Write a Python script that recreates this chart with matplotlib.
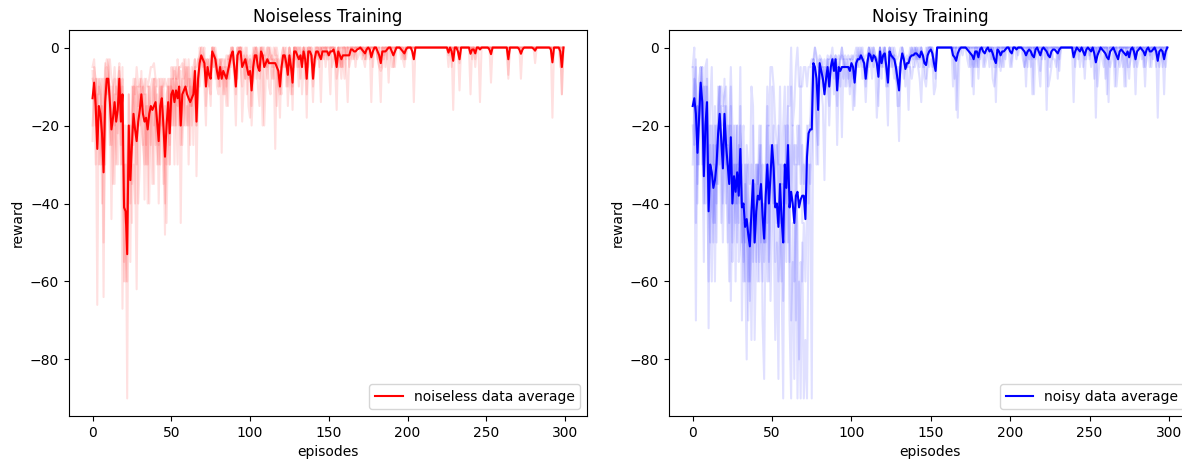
import numpy as np
import matplotlib
matplotlib.use('Agg')
import matplotlib.pyplot as plt

# promedio de las corridas sin ruido
noiseless_mean = [
    -13, -9, -15, -26, -15, -17, -22, -32, -14, -8, -8, -14, -21, -18, -14, -19, -16, -8, -19, -12,
    -41, -42, -53, -20, -34, -25, -17, -21, -24, -19, -16, -12, -17, -19, -18, -21, -17, -15, -16, -15,
    -14, -19, -24, -15, -13, -20, -28, -20, -14, -22, -12, -11, -14, -11, -13, -10, -20, -12, -11, -10,
    -12, -13, -14, -13, -12, -6, -19, -8, -4, -2, -3, -4, -10, -5, -7, -8, -1, -2, -3, -6,
    -8, -5, -8, -6, -7, -8, -6, -4, -2, -1, -5, -10, -2, -1, -1, -5, -4, -3, -5, -7,
    -6, -11, -5, -2, -2, -5, -6, -1, -2, -5, -4, -3, -4, -4, -4, -4, -4, -5, -6, -10,
    -5, -2, -2, -4, -7, -2, -5, -9, -1, -1, -2, -3, -2, -5, -1, -3, -8, -1, -1, -2,
    -8, -3, -1, -1, -2, -3, -1, -1, -1, -1, -2, -1, -1, -0.5, -2, -5, -1, -2, -3, -2,
    -2, -2, -2, -2, -0.5, -0.5, -1, -1, -0.5, -0.3, 0, -0.5, -1, -1.5, -0.5, 0, -0.5, -2.5, -1, 0,
    0, -1, -2, -4, -1, -1, -1, -0.5, 0, 0, -1, -2, -1, 0, 0, 0, -0.5, -1, -1.5, -0.5,
    0, 0, 0, -1, -3, 0, 0, 0, 0, 0, 0, 0, 0, 0, 0, 0, 0, 0, 0, 0,
    0, 0, 0, 0, 0, 0, -1.3, 0, -1, -3.4, 0, 0, -1, -3, 0, 0, 0, 0, 0, 0,
    -1.6, -0.5, -0.5, -1.5, 0, 0, -0.5, 0, 0, 0, 0, 0, -0.5, -1.7, 0, 0, 0, 0, 0, 0,
    0, 0, 0, 0, -3, 0, 0, 0, 0, 0, 0, -0.5, -1.6, -0.5, 0, 0, 0, 0, 0, 0,
    -0.3, -0.8, 0, 0, 0, 0, 0, 0, 0, 0, 0, -0.5, -3.8, 0, 0, 0, 0, -1, -5, 0,
]

noiseless_run1 = [
    -24, -5, -8, -66, -10, -12, -30, -20, -6, -3, -5, -12, -44, -15, -8, -30, -10, -4, -25, -10,
    -55, -30, -90, -12, -40, -20, -8, -15, -30, -10, -20, -6, -25, -12, -30, -15, -40, -10, -8, -20,
    -10, -30, -18, -8, -15, -25, -48, -12, -10, -30, -8, -20, -6, -15, -30, -5, -45, -10, -3, -15,
    -20, -8, -25, -10, -5, -3, -33, -12, 0, -2, -5, -10, -20, -3, -8, -15, 0, -5, -2, -10,
    -12, -3, -27, -5, -10, -15, -2, -8, 0, -3, -8, -20, -2, 0, -5, -10, -3, -8, -2, -15,
    -18, -5, 0, -2, -8, -3, 0, -2, -20, -5, -3, -8, -2, 0, -5, -3, -26, -2, -8, -18,
    -3, 0, -5, -2, -10, 0, -3, -16, 0, -2, -5, -2, -8, -3, 0, -2, -18, 0, 0, -5,
    -14, -2, 0, 0, -3, -14, 0, -2, 0, 0, -3, -12, 0, 0, -5, -16, 0, -3, -8, 0,
    0, -5, -14, -2, 0, 0, -3, 0, 0, 0, 0, 0, -3, -5, 0, 0, 0, -14, 0, 0,
    0, -2, -5, -14, 0, -3, 0, 0, -9, 0, 0, -5, 0, 0, 0, 0, 0, -3, -5, 0,
    0, 0, 0, 0, -14, 0, 0, 0, 0, 0, 0, 0, 0, 0, 0, 0, 0, 0, 0, 0,
    0, 0, 0, 0, 0, 0, -5, 0, 0, -16, 0, 0, 0, -11, 0, 0, 0, 0, 0, 0,
    -12, 0, 0, -5, 0, 0, -14, 0, 0, 0, 0, 0, 0, -9, 0, 0, 0, 0, 0, 0,
    0, 0, 0, 0, -8, 0, 0, 0, 0, 0, 0, 0, -8, 0, 0, 0, 0, 0, 0, 0,
    0, -4, 0, 0, 0, 0, 0, 0, 0, 0, 0, 0, -18, 0, 0, 0, 0, 0, -12, 0,
]

noiseless_run2 = [
    -8, -10, -20, -12, -30, -25, -15, -64, -10, -8, -12, -25, -10, -20, -35, -10, -22, -6, -12, -67,
    -30, -60, -40, -25, -20, -45, -10, -30, -62, -20, -8, -15, -10, -39, -12, -30, -10, -20, -35, -8,
    -25, -12, -40, -20, -10, -35, -15, -30, -20, -8, -20, -5, -30, -8, -10, -20, -6, -25, -15, -8,
    -5, -30, -10, -20, -15, -8, -20, -3, -10, -5, -3, 0, -15, -8, -3, -5, -2, 0, -8, -5,
    -3, -10, -5, -12, -3, -8, -15, -2, -5, 0, -3, -5, -8, -2, 0, -19, -10, 0, -12, -5,
    -5, -20, -10, -3, 0, -10, -15, 0, -3, -20, -8, 0, -10, -12, -3, -8, -5, -15, -3, -10,
    -12, -3, 0, -10, -5, -8, -12, -3, -5, 0, -3, -10, 0, -12, -5, -8, 0, -5, -3, 0,
    -10, -5, -3, 0, -5, 0, -3, 0, -5, 0, 0, 0, -5, -3, 0, -8, -5, 0, -5, -3,
    -8, 0, 0, -5, -3, 0, 0, -5, 0, 0, 0, -3, 0, -3, 0, 0, -3, 0, -5, 0,
    0, -3, -5, -6, -5, 0, -5, 0, 0, 0, -5, -5, 0, 0, 0, 0, 0, 0, -3, 0,
    0, 0, 0, 0, 0, 0, 0, 0, 0, 0, 0, 0, 0, 0, 0, 0, 0, 0, 0, 0,
    0, 0, 0, 0, 0, 0, 0, 0, -5, 0, 0, 0, 0, -4, 0, 0, 0, 0, 0, 0,
    0, 0, 0, -3, 0, 0, 0, 0, 0, 0, 0, 0, 0, 0, 0, 0, 0, 0, 0, 0,
    0, 0, 0, 0, -7, 0, 0, 0, 0, 0, 0, 0, 0, 0, 0, 0, 0, 0, 0, 0,
    0, 0, 0, 0, 0, 0, 0, 0, 0, 0, 0, 0, -1, 0, 0, 0, 0, 0, -12, 0,
]

noiseless_run3 = [
    -5, -3, -10, -20, -8, -10, -40, -8, -30, -12, -3, -20, -25, -10, -5, -12, -8, -15, -30, -5,
    -40, -45, -30, -20, -55, -10, -25, -8, -12, -40, -30, -10, -15, -8, -25, -10, -18, -15, -20, -35,
    -8, -20, -25, -10, -20, -8, -40, -15, -8, -25, -15, -8, -10, -20, -3, -8, -20, -8, -20, -5,
    -10, -5, -15, -5, -25, -3, -10, -8, -5, 0, -2, -5, -3, -5, -10, -2, -3, -5, 0, -3,
    -10, -5, -3, -8, -5, -10, -3, -5, -3, -2, -5, -12, 0, -3, 0, -2, -5, -8, 0, -8,
    -3, -15, -3, 0, -2, -5, -8, -2, 0, 0, -5, -3, 0, -5, -8, -5, 0, -5, -8, -8,
    -5, -5, -3, 0, -15, -5, -8, -12, 0, 0, 0, -5, -2, -5, 0, -3, -12, -3, 0, -3,
    -8, -3, -2, -3, 0, 0, -2, -3, 0, -3, -3, 0, 0, 0, -3, -2, 0, -5, 0, -5,
    0, -3, 0, 0, 0, -3, -2, 0, -3, -2, 0, 0, -2, 0, -3, 0, 0, 0, 0, 0,
    0, 0, 0, -5, 0, -2, 0, -3, 0, 0, 0, 0, -5, 0, 0, 0, -3, -2, 0, -3,
    0, 0, 0, 0, 0, 0, 0, 0, 0, 0, 0, 0, 0, 0, 0, 0, 0, 0, 0, 0,
    0, 0, 0, 0, 0, 0, -2, 0, 0, 0, 0, 0, 0, 0, 0, 0, 0, 0, 0, 0,
    0, -3, 0, 0, 0, 0, 0, 0, 0, 0, 0, 0, 0, 0, 0, 0, 0, 0, 0, 0,
    0, 0, 0, 0, 0, 0, 0, 0, 0, 0, 0, 0, 0, 0, 0, 0, 0, 0, 0, 0,
    0, 0, 0, 0, 0, 0, 0, 0, 0, 0, 0, 0, 0, 0, 0, 0, 0, -5, 0, 0,
]

noiseless_run4 = [
    -20, -12, -8, -25, -15, -30, -8, -50, -20, -5, -8, -10, -20, -35, -12, -25, -30, -10, -15, -8,
    -60, -50, -45, -30, -25, -35, -30, -40, -10, -15, -12, -20, -25, -30, -15, -40, -10, -25, -12, -8,
    -20, -25, -30, -15, -8, -20, -30, -45, -20, -10, -10, -15, -20, -5, -15, -12, -25, -15, -10, -20,
    -15, -20, -8, -15, -10, -10, -20, -15, -3, -3, -5, -3, -8, -5, -10, -12, 0, -2, -3, -8,
    -8, -3, -5, -8, -12, -5, -8, -3, 0, 0, -5, -10, -3, 0, 0, -3, -2, -5, -5, -3,
    -2, -10, -8, -5, 0, -3, -5, 0, -3, -2, -3, -5, -3, -3, -2, -5, -3, -3, -10, -12,
    -5, -2, -3, -5, -3, 0, -3, -10, 0, -3, 0, 0, -2, -3, 0, -2, -8, 0, -2, -2,
    -5, -5, 0, -2, -2, 0, 0, 0, 0, -2, -2, 0, 0, 0, -2, -3, 0, -2, -5, 0,
    0, -2, 0, -3, 0, 0, 0, 0, 0, 0, 0, 0, 0, -3, 0, 0, 0, 0, 0, 0,
    0, -3, 0, -3, 0, 0, 0, 0, 0, 0, 0, 0, 0, 0, 0, 0, 0, 0, -3, 0,
    0, 0, 0, 0, 0, 0, 0, 0, 0, 0, 0, 0, 0, 0, 0, 0, 0, 0, 0, 0,
    0, 0, 0, 0, 0, 0, 0, 0, 0, -1, 0, 0, 0, 0, 0, 0, 0, 0, 0, 0,
    0, 0, 0, -1, 0, 0, 0, 0, 0, 0, 0, 0, 0, 0, 0, 0, 0, 0, 0, 0,
    0, 0, 0, 0, 0, 0, 0, 0, 0, 0, 0, 0, 0, 0, 0, 0, 0, 0, 0, 0,
    0, 0, 0, 0, 0, 0, 0, 0, 0, 0, 0, 0, 0, 0, 0, 0, 0, 0, 0, 0,
]

noiseless_run5 = [
    -6, -15, -30, -8, -12, -8, -20, -22, -4, -12, -10, -3, -8, -10, -20, -18, -10, -5, -12, -30,
    -20, -20, -60, -12, -30, -20, -10, -12, -5, -10, -10, -8, -10, -12, -8, -10, -8, -5, -5, -4,
    -8, -10, -8, -30, -10, -10, -8, -10, -10, -30, -5, -8, -5, -8, -8, -5, -5, -4, -8, -3,
    -10, -3, -10, -15, -8, -5, -5, -3, -2, 0, 0, -3, -5, -3, -5, -8, 0, 0, -2, -5,
    -8, -5, -3, -3, -5, -2, -3, -2, -2, 0, -3, -3, 0, 0, 0, 0, -2, -3, -3, -5,
    -3, -5, -2, 0, 0, -2, -3, 0, 0, -2, -2, 0, 0, -2, -3, 0, -2, 0, -3, -5,
    -2, 0, -2, -3, -5, 0, -2, -3, 0, 0, -2, 0, 0, -3, 0, 0, -3, 0, 0, 0,
    -3, 0, 0, 0, 0, -2, 0, 0, 0, 0, 0, 0, 0, 0, 0, -3, 0, 0, 0, 0,
    0, 0, 0, 0, 0, 0, 0, 0, 0, 0, 0, 0, 0, 0, 0, 0, 0, 0, 0, 0,
    0, 0, 0, 0, 0, 0, 0, 0, 0, 0, 0, 0, 0, 0, 0, 0, 0, 0, 0, 0,
    0, 0, 0, 0, 0, 0, 0, 0, 0, 0, 0, 0, 0, 0, 0, 0, 0, 0, 0, 0,
    0, 0, 0, 0, 0, 0, 0, 0, 0, 0, 0, 0, 0, 0, 0, 0, 0, 0, 0, 0,
    0, 0, 0, 0, 0, 0, 0, 0, 0, 0, 0, 0, 0, 0, 0, 0, 0, 0, 0, 0,
    0, 0, 0, 0, 0, 0, 0, 0, 0, 0, 0, 0, 0, 0, 0, 0, 0, 0, 0, 0,
    0, 0, 0, 0, 0, 0, 0, 0, 0, 0, 0, 0, 0, 0, 0, 0, 0, 0, 0, 0,
]

# promedio de las corridas con ruido
noisy_mean = [
    -15, -13, -17, -27, -18, -9, -14, -33, -20, -14, -42, -30, -32, -36, -34, -30, -22, -17, -24, -31,
    -17, -25, -30, -35, -23, -40, -33, -37, -32, -38, -26, -41, -40, -46, -44, -48, -51, -42, -34, -50,
    -42, -38, -39, -35, -43, -49, -38, -30, -40, -33, -25, -31, -41, -40, -46, -35, -44, -50, -30, -36,
    -25, -41, -37, -40, -45, -38, -37, -41, -39, -38, -38, -44, -28, -22, -21, -21, -4, -5, -8, -16,
    -4, -6, -8, -12, -8, -5, -10, -5, -3, -6, -3, -11, -5, -6, -5, -5, -5, -5, -5, -6,
    -4, -5, -9, -4, -3, -3, -2, -3, -4, -8, -4, -1.5, -2, -3.5, -2, -2.5, -4, -7.5, -1, -4,
    -2, -1.5, -5, -9, -1, -2, -2.5, -3, -5, -8, -11, -4, -1.5, -3, -5.5, -4, -4, -2.5, -2, -2,
    -1.5, -1.5, -2, -2.5, -1, -2, -4, -4.5, -2, -1, -0.5, -1.5, -4, -6, 0, 0, 0, 0, 0, 0,
    0, 0, 0, 0, -2, -2.5, -3.4, -1.5, -0.5, 0, 0, 0, 0, -0.5, -1, -1.5, -2, -3, -1, -1,
    -2.5, -0.5, 0, -1, -1.5, -0.5, 0, -1, -0.5, -1.5, -3, -4, -0.5, -1, -2, -1, -1, -0.5, 0, 0,
    -1, -1.5, 0, 0, -0.5, 0, 0, 0, -0.5, -1, -2, -1, -0.5, -1, -2, -2.5, -0.5, 0, -1, -2,
    -0.5, 0, -0.5, -1, -2, -2.5, -1, -0.5, -0.5, -1, -1.5, -0.5, 0, 0, 0, 0, 0, 0, 0, 0,
    -2.5, -1, 0, -0.5, -1, 0, -1, -2, -0.5, 0, -0.5, -1, 0, -1.5, -3.8, -2, -1, 0, -0.5, -1,
    -1.5, -2.5, -3, -1, -0.5, 0, -1, -2, -3, -1, -0.5, -1, -1.5, -2, -1, -2.5, -0.5, 0, -1, -3,
    -1, -0.5, 0, -0.5, -1, -2, -0.5, 0, -1, -1, -0.5, 0, -1, -3.4, -1, -0.5, -1, -3, -1, 0,
]

noisy_run1 = [
    -5, -20, -70, -15, -30, -5, -10, -40, -25, -8, -72, -20, -35, -50, -15, -40, -10, -25, -45, -30,
    -8, -30, -50, -20, -65, -35, -20, -60, -30, -45, -15, -70, -40, -55, -80, -30, -60, -45, -20, -75,
    -50, -30, -55, -20, -70, -85, -40, -15, -60, -30, -10, -45, -75, -50, -85, -30, -60, -90, -20, -55,
    -15, -70, -90, -45, -85, -30, -90, -60, -90, -50, -90, -75, -90, -45, -30, -90, -5, -10, -20, -25,
    -5, -10, -15, -34, -10, -3, -20, -8, -5, -12, -3, -25, -8, -5, -23, -3, -10, -5, -8, -3,
    -5, -16, -10, -2, -5, 0, -3, -8, -5, -14, -5, 0, -3, -8, -2, -5, -18, -10, 0, -5,
    -3, 0, -8, -20, 0, -3, -5, -2, -8, -10, -24, -5, 0, -3, -10, -5, -16, -3, 0, -2,
    0, -3, -5, -8, -14, -3, -8, -10, -5, 0, 0, -3, -12, -10, 0, 0, 0, 0, 0, 0,
    0, 0, 0, 0, -10, 0, -16, -5, 0, 0, 0, 0, 0, 0, 0, -3, 0, -12, 0, 0,
    -8, 0, 0, 0, 0, 0, 0, 0, 0, -3, 0, -14, 0, 0, -6, 0, 0, 0, 0, 0,
    0, -5, 0, 0, 0, 0, 0, 0, 0, 0, -10, 0, 0, 0, -12, 0, 0, 0, 0, -6,
    0, 0, 0, -16, 0, 0, 0, 0, 0, 0, 0, -6, 0, 0, 0, 0, 0, 0, 0, 0,
    -14, 0, 0, 0, 0, 0, 0, -8, 0, 0, 0, 0, 0, 0, -18, 0, 0, 0, 0, 0,
    0, -12, 0, 0, 0, 0, -10, 0, 0, 0, 0, 0, -10, 0, 0, -8, 0, 0, 0, -12,
    0, 0, 0, 0, 0, -10, 0, 0, 0, 0, 0, 0, 0, -18, 0, 0, 0, -12, 0, 0,
]

noisy_run2 = [
    -15, -8, -10, -30, -12, -10, -20, -55, -10, -25, -40, -50, -20, -30, -60, -25, -35, -10, -30, -50,
    -30, -15, -40, -60, -20, -55, -45, -30, -50, -25, -40, -30, -60, -35, -45, -70, -50, -30, -55, -40,
    -30, -60, -25, -50, -40, -55, -30, -45, -20, -65, -45, -20, -55, -40, -60, -50, -35, -65, -40, -30,
    -50, -40, -70, -55, -60, -40, -45, -80, -55, -60, -45, -60, -40, -30, -35, -25, -3, -5, -15, -30,
    -3, -8, -5, -10, -5, -10, -15, -3, 0, -5, -5, -15, -3, -10, -5, -8, -3, -10, -5, -12,
    -3, -5, -15, -5, -3, -5, -2, 0, -5, -10, -3, -5, 0, -3, -5, -2, -3, -15, 0, -8,
    0, -3, -5, -10, -2, 0, -5, -8, -3, -15, -15, -3, -5, -8, -5, -3, -5, -5, -8, -5,
    -5, 0, -3, -2, 0, -5, -5, -8, 0, 0, 0, 0, -5, -8, 0, 0, 0, 0, 0, 0,
    0, 0, 0, 0, 0, -8, 0, -18, -3, 0, 0, 0, 0, -3, -5, 0, -10, 0, -5, 0,
    -5, 0, 0, -5, -3, 0, 0, -5, 0, -8, -10, -6, 0, -5, 0, 0, -5, 0, 0, 0,
    -5, -3, 0, 0, 0, 0, 0, 0, 0, -5, 0, -5, 0, -5, 0, -12, 0, 0, -5, -10,
    0, 0, 0, 0, -10, -8, -5, 0, 0, 0, -8, 0, 0, 0, 0, 0, 0, 0, 0, 0,
    0, -5, 0, 0, -5, 0, -5, 0, 0, 0, 0, -5, 0, -8, 0, -10, -5, 0, 0, 0,
    -8, 0, -14, 0, 0, 0, 0, -10, -5, 0, 0, -5, 0, -10, 0, 0, 0, 0, -5, 0,
    0, 0, 0, 0, -5, 0, 0, 0, 0, -5, 0, 0, -5, 0, 0, 0, -5, 0, 0, 0,
]

noisy_run3 = [
    -30, -12, -5, -35, -20, -15, -5, -30, -40, -10, -30, -40, -60, -25, -45, -20, -25, -30, -15, -20,
    -20, -40, -20, -30, -10, -50, -30, -40, -20, -55, -50, -25, -20, -60, -30, -40, -65, -50, -40, -35,
    -55, -35, -20, -45, -60, -40, -50, -20, -55, -40, -30, -40, -25, -45, -20, -40, -60, -35, -50, -20,
    -20, -55, -10, -40, -25, -70, -20, -30, -5, -45, -30, -40, -20, -40, -20, -5, -5, 0, -3, -10,
    -5, -3, -8, -5, -8, -5, -3, -5, -5, -8, -2, -5, -5, -3, 0, -5, -5, -3, -5, -10,
    -5, -8, -5, -3, -3, -2, -3, -5, -3, -8, -8, -2, -3, 0, -2, -3, -3, -5, -3, -3,
    -5, -3, -10, -8, -2, -5, 0, -3, -5, -5, -10, -5, -2, -3, -5, -5, -3, -2, -2, -5,
    -2, -3, 0, -3, -2, -3, -5, -3, -3, -5, -3, -5, -3, -5, 0, 0, 0, 0, 0, 0,
    0, 0, 0, 0, 0, -3, 0, -2, 0, 0, 0, 0, 0, 0, 0, -5, -3, -5, 0, -5,
    0, -3, 0, 0, -5, -3, 0, 0, -3, 0, -5, -5, -3, 0, -3, -5, 0, -3, 0, 0,
    0, 0, 0, 0, -3, 0, 0, 0, -3, -5, -3, 0, -3, 0, -3, 0, -3, 0, 0, 0,
    -3, 0, -3, 0, 0, -5, 0, -3, -3, -5, 0, -3, 0, 0, 0, 0, 0, 0, 0, 0,
    0, 0, 0, -3, 0, 0, 0, -3, -3, 0, -3, 0, 0, 0, -3, 0, 0, 0, -3, -5,
    0, 0, -3, -5, -3, 0, -5, 0, -3, -5, -3, 0, 0, 0, -5, -5, -3, 0, 0, -3,
    -5, -3, 0, -3, 0, -5, -3, 0, -5, 0, -3, 0, 0, -3, -5, -3, 0, -3, -5, 0,
]

noisy_run4 = [
    -20, -25, -3, -40, -8, -5, -30, -10, -20, -30, -60, -25, -40, -45, -30, -50, -15, -10, -20, -40,
    -15, -30, -25, -45, -15, -40, -35, -20, -40, -35, -20, -40, -55, -30, -40, -60, -45, -75, -40, -50,
    -45, -30, -60, -35, -30, -50, -40, -60, -45, -25, -35, -40, -30, -25, -35, -45, -30, -40, -30, -40,
    -30, -25, -40, -20, -30, -25, -30, -20, -35, -25, -35, -30, -25, -20, -20, -15, -3, -8, -30, -10,
    -5, -5, -10, -5, -8, -3, -10, -5, -3, -3, -3, -5, -8, -3, 0, -3, -5, -5, -3, -3,
    -3, -2, -8, -5, 0, -3, -2, -3, -5, -5, -3, 0, -2, -3, 0, -2, -3, -5, 0, -3,
    -2, 0, -3, -5, 0, -2, -3, -2, -5, -8, -5, -5, 0, -2, -5, -5, -3, -2, 0, -3,
    0, -2, -3, -5, 0, -2, -3, 0, -2, 0, 0, -2, -3, -5, 0, 0, 0, 0, 0, 0,
    0, 0, 0, 0, 0, 0, 0, 0, 0, 0, 0, 0, 0, 0, 0, 0, 0, 0, 0, 0,
    0, 0, 0, 0, 0, 0, 0, 0, 0, 0, -2, 0, 0, 0, 0, 0, 0, 0, 0, 0,
    0, 0, 0, 0, 0, 0, 0, 0, 0, 0, 0, 0, 0, 0, 0, 0, 0, 0, 0, 0,
    0, 0, 0, 0, -2, 0, 0, 0, 0, 0, 0, 0, 0, 0, 0, 0, 0, 0, 0, 0,
    0, 0, 0, 0, 0, 0, 0, 0, 0, 0, 0, 0, 0, 0, 0, -2, 0, 0, 0, 0,
    0, 0, -2, 0, 0, 0, 0, 0, -3, 0, 0, 0, 0, 0, 0, 0, 0, 0, 0, -3,
    0, 0, 0, 0, 0, 0, 0, 0, 0, 0, 0, 0, 0, 0, 0, 0, 0, 0, 0, 0,
]

noisy_run5 = [
    -5, 0, -45, -15, -20, -10, -5, -30, -5, -3, -30, -15, -5, -30, -20, -35, -25, -10, -10, -15,
    -12, -10, -25, -20, -5, -20, -35, -45, -20, -30, -5, -50, -45, -50, -25, -30, -35, -10, -15, -50,
    -30, -35, -30, -25, -45, -50, -30, -10, -20, -5, -5, -10, -20, -25, -30, -10, -35, -20, -10, -35,
    -10, -15, 0, -20, -15, -5, 0, -10, -10, -10, -5, -5, -10, -5, -5, -3, -3, 0, -2, -5,
    -2, -3, -5, -3, -5, -2, -3, -2, -3, -3, -2, -3, -2, -3, -2, -3, -2, -3, -2, -3,
    -2, -3, -2, 0, -2, -3, 0, -2, -3, -2, -2, 0, -2, -3, 0, -2, -3, -2, 0, -2,
    -2, 0, -3, -2, 0, -2, -3, 0, -2, -3, -2, 0, 0, -2, -3, -2, -3, 0, -2, 0,
    -2, 0, -2, 0, 0, -2, -3, -2, 0, 0, 0, 0, -2, -3, 0, 0, 0, 0, 0, 0,
    0, 0, 0, 0, 0, 0, 0, 0, 0, 0, -2, 0, 0, 0, 0, 0, 0, 0, 0, 0,
    0, 0, 0, 0, 0, 0, 0, 0, 0, 0, 0, 0, 0, 0, 0, 0, 0, 0, 0, 0,
    0, 0, 0, 0, 0, -2, 0, 0, 0, 0, 0, 0, 0, 0, 0, 0, 0, 0, 0, 0,
    0, 0, 0, 0, 0, 0, 0, 0, 0, 0, 0, 0, 0, 0, 0, 0, 0, 0, 0, 0,
    0, 0, 0, 0, 0, 0, 0, 0, 0, 0, -2, 0, 0, 0, 0, 0, 0, 0, 0, 0,
    0, 0, 0, 0, 0, 0, 0, 0, 0, 0, 0, 0, 0, 0, 0, 0, 0, 0, 0, 0,
    0, 0, 0, 0, 0, 0, 0, 0, -2, 0, 0, 0, 0, 0, 0, 0, 0, 0, 0, 0,
]

noiseless_runs = [noiseless_run1, noiseless_run2, noiseless_run3, noiseless_run4, noiseless_run5]
noisy_runs = [noisy_run1, noisy_run2, noisy_run3, noisy_run4, noisy_run5]


def plot_training(ax, runs, mean, color, label, title):
    for run in runs:
        ax.plot(run, color=color, alpha=0.12)
    ax.plot(mean, color=color, label=label)
    ax.set_title(title)
    ax.set_xlabel('episodes')
    ax.set_ylabel('reward')
    ax.legend(loc='lower right')


fig = plt.figure(figsize=(11.82, 4.63), dpi=100)
ax1 = fig.add_axes([69 / 1182, 47 / 463, 518 / 1182, 386 / 463])
# el panel derecho queda recortado por el borde de la imagen, como en el original
ax2 = fig.add_axes([669 / 1182, 47 / 463, 522 / 1182, 386 / 463])

plot_training(ax1, noiseless_runs, noiseless_mean, 'red', 'noiseless data average', 'Noiseless Training')
plot_training(ax2, noisy_runs, noisy_mean, 'blue', 'noisy data average', 'Noisy Training')

fig.savefig('out.png', dpi=100)
plt.close(fig)
